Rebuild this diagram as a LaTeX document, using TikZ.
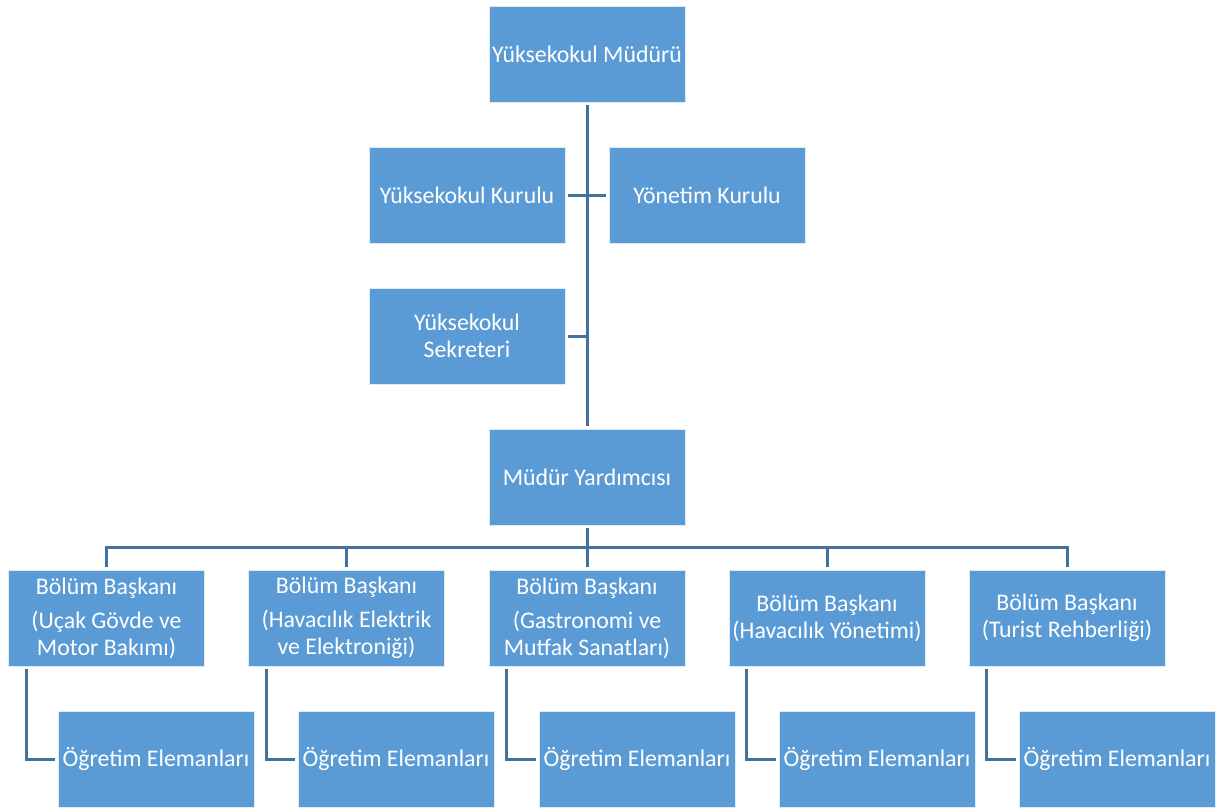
\documentclass[tikz,border=0pt]{standalone}
\usepackage{fontspec}
\setmainfont{Carlito}
\definecolor{boxfill}{HTML}{5B9BD5}
\definecolor{linecol}{HTML}{41719C}
\begin{document}
\begin{tikzpicture}[x=1pt,y=-1pt,
  orgbox/.style={rectangle, fill=boxfill, draw=white!80!boxfill, line width=0.8pt,
    minimum width=196pt, minimum height=96pt, inner sep=0pt, text=white,
    align=center, font=\fontsize{23.8}{27}\selectfont},
  conn/.style={draw=linecol, line width=3pt, shorten >=3pt, shorten <=3pt}]
\useasboundingbox (0,0) rectangle (1221,809);
\node[orgbox] (top) at (587,54) {Yüksekokul Müdürü};
\node[orgbox] (yk) at (467,195) {Yüksekokul Kurulu};
\node[orgbox] (yon) at (707,195) {Yönetim Kurulu};
\node[orgbox] (sek) at (467,336) {Yüksekokul\\Sekreteri};
\node[orgbox] (mya) at (587,477) {Müdür Yardımcısı};
\node[orgbox] (b1) at (106.5,618) {Bölüm Başkanı\\[7pt](Uçak Gövde ve\\Motor Bakımı)};
\node[orgbox] (b2) at (346.5,618) {Bölüm Başkanı\\[7pt](Havacılık Elektrik\\ve Elektroniği)};
\node[orgbox] (b3) at (587,618) {Bölüm Başkanı\\[7pt](Gastronomi ve\\Mutfak Sanatları)};
\node[orgbox] (b4) at (827,618) {Bölüm Başkanı\\(Havacılık Yönetimi)};
\node[orgbox] (b5) at (1067,618) {Bölüm Başkanı\\(Turist Rehberliği)};
\node[orgbox] (o1) at (156,759) {Öğretim Elemanları};
\node[orgbox] (o2) at (396,759) {Öğretim Elemanları};
\node[orgbox] (o3) at (637,759) {Öğretim Elemanları};
\node[orgbox] (o4) at (877,759) {Öğretim Elemanları};
\node[orgbox] (o5) at (1117,759) {Öğretim Elemanları};
\coordinate (bus) at (587,547);
% trunk
\draw[conn] (top.south) -- (mya.north);
\draw[conn] (yk.east) -- (yon.west);
\draw[conn, shorten >=0pt] (sek.east) -- (sek.east -| top.south);
% bus
\draw[conn] (mya.south) -- (b3.north);
\draw[conn] (b1.north) |- (bus) -| (b5.north);
\draw[conn, shorten <=0pt] (b2.north |- bus) -- (b2.north);
\draw[conn, shorten <=0pt] (b4.north |- bus) -- (b4.north);
% staff
\foreach \i in {1,...,5}{
  \draw[conn] ([xshift=18pt]b\i.south west) |- (o\i.west);
}
\end{tikzpicture}
\end{document}
